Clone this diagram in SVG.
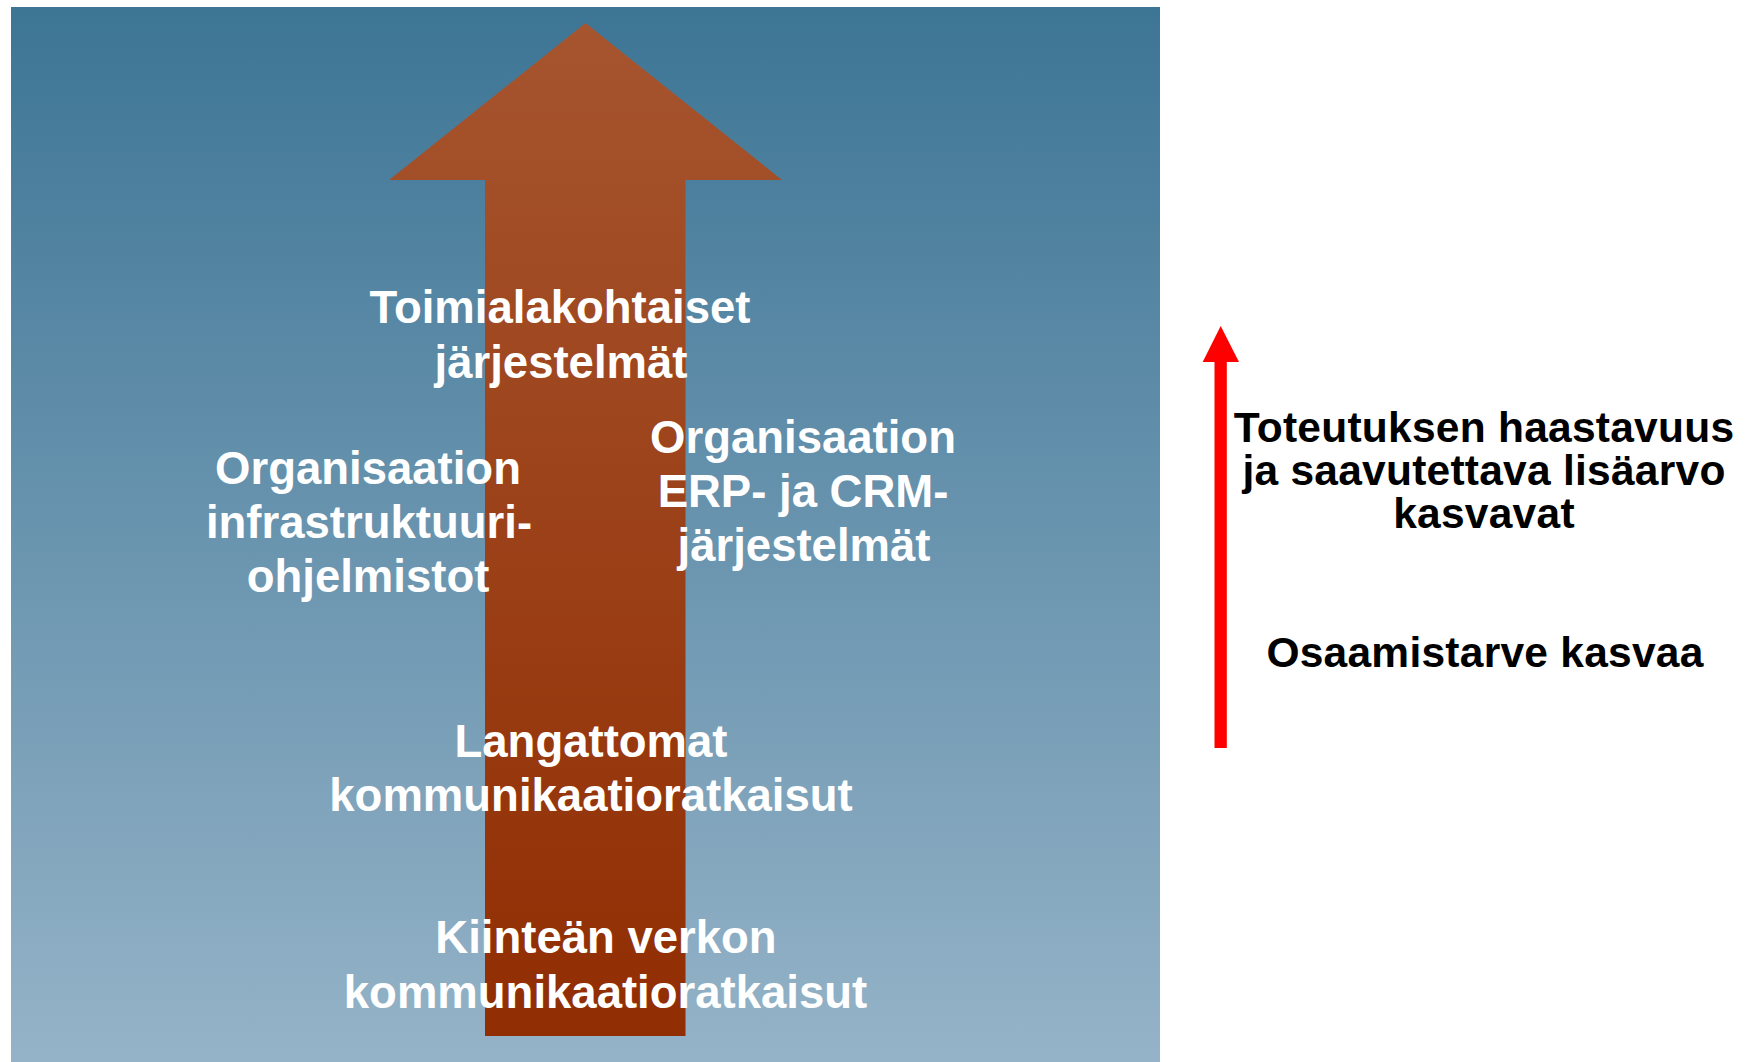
<svg xmlns="http://www.w3.org/2000/svg" width="1747" height="1062" viewBox="0 0 1747 1062">
  <defs>
    <linearGradient id="bgGrad" x1="0" y1="7" x2="0" y2="1062" gradientUnits="userSpaceOnUse">
      <stop offset="0" stop-color="#3D7595"/>
      <stop offset="1" stop-color="#95B3C8"/>
    </linearGradient>
    <linearGradient id="arrowGrad" x1="0" y1="23" x2="0" y2="1036" gradientUnits="userSpaceOnUse">
      <stop offset="0" stop-color="#A6552F"/>
      <stop offset="1" stop-color="#912D02"/>
    </linearGradient>
    <style>
      .wt { font-family: "Liberation Sans", Arial, sans-serif; font-weight: bold; font-size: 45.5px; fill: #FFFFFF; text-anchor: middle; }
      .bt { font-family: "Liberation Sans", Arial, sans-serif; font-weight: bold; font-size: 42.5px; letter-spacing: 0.25px; fill: #000000; text-anchor: middle; }
    </style>
  </defs>
  <rect x="0" y="0" width="1747" height="1062" fill="#FFFFFF"/>
  <rect id="background" x="11" y="7" width="1149" height="1055" fill="url(#bgGrad)"/>
  <polygon id="big-arrow" points="585.5,23 782,180 685.5,180 685.5,1036 485,1036 485,180 389,180" fill="url(#arrowGrad)"/>

  <g id="connectors">
    <g id="red-arrow" fill="#FF0000">
      <rect x="1214.5" y="360" width="12.3" height="388"/>
      <polygon points="1220.7,326 1239,362 1202.7,362"/>
    </g>
  </g>

  <g id="node-toimialakohtaiset">
    <text class="wt" x="560" y="323">Toimialakohtaiset</text>
    <text class="wt" x="561" y="378">järjestelmät</text>
  </g>
  <g id="node-infrastruktuuri">
    <text class="wt" x="368" y="484">Organisaation</text>
    <text class="wt" x="369" y="538">infrastruktuuri-</text>
    <text class="wt" x="368" y="592">ohjelmistot</text>
  </g>
  <g id="node-erp-crm">
    <text class="wt" x="803" y="453">Organisaation</text>
    <text class="wt" x="803" y="507">ERP- ja CRM-</text>
    <text class="wt" x="804" y="561">järjestelmät</text>
  </g>
  <g id="node-langattomat">
    <text class="wt" x="591" y="757">Langattomat</text>
    <text class="wt" x="591" y="811">kommunikaatioratkaisut</text>
  </g>
  <g id="node-kiintea">
    <text class="wt" x="606" y="953">Kiinteän verkon</text>
    <text class="wt" x="605.5" y="1008">kommunikaatioratkaisut</text>
  </g>
  <g id="node-haastavuus">
    <text class="bt" x="1484" y="442">Toteutuksen haastavuus</text>
    <text class="bt" x="1484" y="485">ja saavutettava lisäarvo</text>
    <text class="bt" x="1484" y="528">kasvavat</text>
  </g>
  <g id="node-osaamistarve">
    <text class="bt" x="1485" y="667">Osaamistarve kasvaa</text>
  </g>
</svg>
